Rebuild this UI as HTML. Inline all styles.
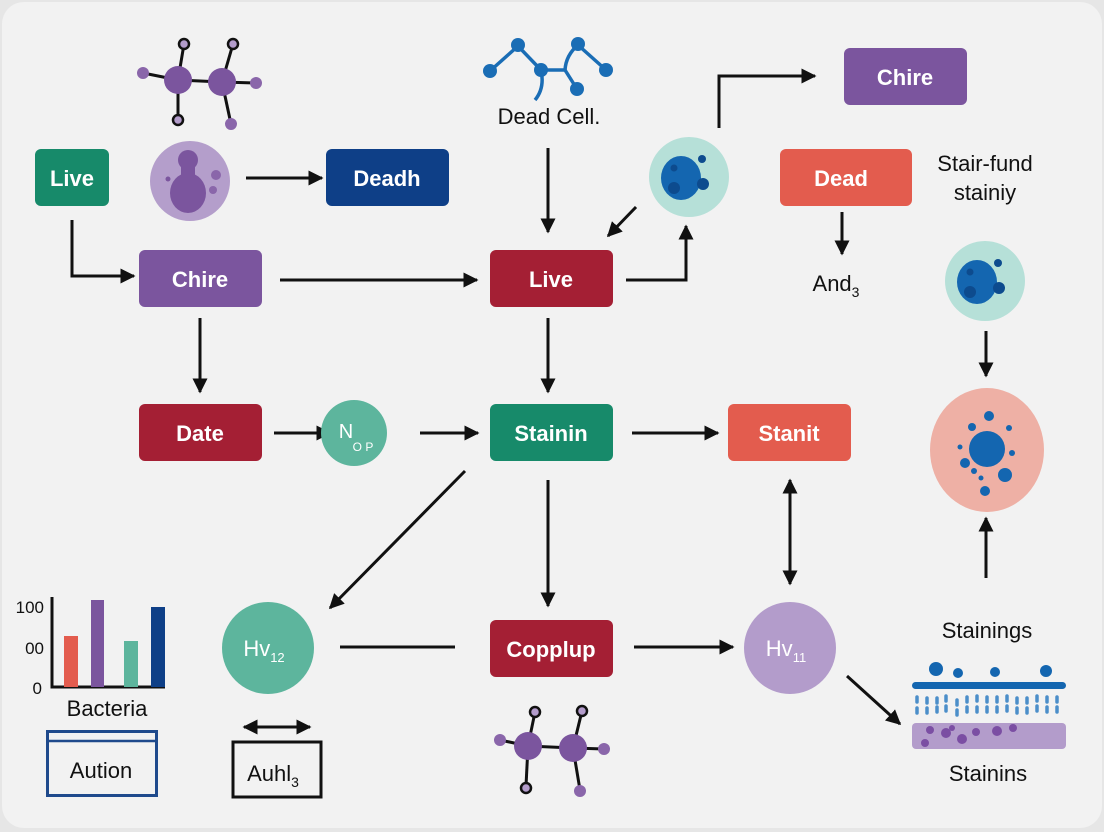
<!DOCTYPE html>
<html><head><meta charset="utf-8"><style>
html,body{margin:0;padding:0;background:#e9e9e9}
svg{display:block}
text{font-family:"Liberation Sans",sans-serif}
</style></head><body>
<svg width="1104" height="832" viewBox="0 0 1104 832" xmlns="http://www.w3.org/2000/svg">
<defs>
<marker id="a" viewBox="0 0 10 10" refX="9" refY="5" markerWidth="5" markerHeight="5" orient="auto-start-reverse"><path d="M0,0L10,5L0,10z" fill="#111"/></marker>
</defs>
<rect x="0" y="0" width="1104" height="832" fill="#e6e6e6"/>
<rect x="2" y="2" width="1100" height="826" rx="22" fill="#f2f2f2"/>

<g stroke="#111" stroke-width="3" fill="none" marker-end="url(#a)">
<path d="M72,220V276H134"/>
<path d="M246,178H322"/>
<path d="M280,280H477"/>
<path d="M548,148V232"/>
<path d="M636,207L608,236"/>
<path d="M626,280H686V226"/>
<path d="M719,128V76H815"/>
<path d="M842,212V254"/>
<path d="M200,318V392"/>
<path d="M274,433H330"/>
<path d="M420,433H478"/>
<path d="M548,318V392"/>
<path d="M632,433H718"/>
<path d="M986,331V376"/>
<path d="M465,471L330,608"/>
<path d="M548,480V606"/>
<path d="M790,480V584" marker-start="url(#a)"/>
<path d="M634,647H733"/>
<path d="M847,676L900,724"/>
<path d="M986,578V518"/>
<path d="M244,727H310" marker-start="url(#a)"/>
</g>
<line x1="340" y1="647" x2="455" y2="647" stroke="#111" stroke-width="3"/>

<!-- boxes -->
<g font-size="22" fill="#fff" text-anchor="middle" font-weight="bold">
<rect x="35" y="149" width="74" height="57" rx="6" fill="#178a6a"/><text x="72" y="186">Live</text>
<rect x="326" y="149" width="123" height="57" rx="6" fill="#0e3f87"/><text x="387" y="186">Deadh</text>
<rect x="139" y="250" width="123" height="57" rx="6" fill="#7b559e"/><text x="200" y="287">Chire</text>
<rect x="490" y="250" width="123" height="57" rx="6" fill="#a41f34"/><text x="551" y="287">Live</text>
<rect x="844" y="48" width="123" height="57" rx="6" fill="#7b559e"/><text x="905" y="85">Chire</text>
<rect x="780" y="149" width="132" height="57" rx="6" fill="#e35c4e"/><text x="841" y="186">Dead</text>
<rect x="139" y="404" width="123" height="57" rx="6" fill="#a41f34"/><text x="200" y="441">Date</text>
<rect x="490" y="404" width="123" height="57" rx="6" fill="#178a6a"/><text x="551" y="441">Stainin</text>
<rect x="728" y="404" width="123" height="57" rx="6" fill="#e35c4e"/><text x="789" y="441">Stanit</text>
<rect x="490" y="620" width="123" height="57" rx="6" fill="#a41f34"/><text x="551" y="657">Copplup</text>
</g>

<!-- circles -->
<circle cx="354" cy="433" r="33" fill="#5db59d"/>
<text x="346" y="438" font-size="20" fill="#fff" text-anchor="middle">N</text>
<text x="363" y="451" font-size="12" fill="#fff" text-anchor="middle">O P</text>
<circle cx="268" cy="648" r="46" fill="#5db59d"/>
<text x="264" y="656" font-size="22" fill="#fff" text-anchor="middle">Hv<tspan font-size="13" dy="6">12</tspan></text>
<circle cx="790" cy="648" r="46" fill="#b39ccb"/>
<text x="786" y="656" font-size="22" fill="#fff" text-anchor="middle">Hv<tspan font-size="13" dy="6">11</tspan></text>

<!-- purple cell -->
<circle cx="190" cy="181" r="40" fill="#b49ecb"/>
<circle cx="188" cy="160" r="10" fill="#7b559e"/>
<ellipse cx="188" cy="193" rx="18" ry="20" fill="#7b559e"/>
<rect x="181" y="160" width="14" height="20" fill="#7b559e"/>
<circle cx="168" cy="179" r="2.5" fill="#7b559e"/>
<circle cx="216" cy="175" r="5" fill="#8a66aa"/>
<circle cx="213" cy="190" r="4" fill="#8a66aa"/>

<!-- top molecule -->
<g stroke="#111" stroke-width="3">
<line x1="178" y1="80" x2="184" y2="44"/><line x1="222" y1="82" x2="233" y2="44"/>
<line x1="178" y1="80" x2="143" y2="73"/><line x1="222" y1="82" x2="256" y2="83"/>
<line x1="178" y1="80" x2="178" y2="120"/><line x1="222" y1="82" x2="231" y2="124"/>
<line x1="178" y1="80" x2="222" y2="82"/>
</g>
<circle cx="178" cy="80" r="14" fill="#7b559e"/><circle cx="222" cy="82" r="14" fill="#7b559e"/>
<circle cx="184" cy="44" r="5" fill="#b39ccb" stroke="#111" stroke-width="2.5"/>
<circle cx="233" cy="44" r="5" fill="#b39ccb" stroke="#111" stroke-width="2.5"/>
<circle cx="178" cy="120" r="5" fill="#b39ccb" stroke="#111" stroke-width="2.5"/>
<circle cx="143" cy="73" r="6" fill="#8a66aa"/><circle cx="256" cy="83" r="6" fill="#8a66aa"/>
<circle cx="231" cy="124" r="6" fill="#8a66aa"/>

<!-- bottom molecule -->
<g stroke="#111" stroke-width="3">
<line x1="528" y1="746" x2="535" y2="712"/><line x1="573" y1="748" x2="582" y2="711"/>
<line x1="528" y1="746" x2="500" y2="740"/><line x1="573" y1="748" x2="604" y2="749"/>
<line x1="528" y1="746" x2="526" y2="786"/><line x1="573" y1="748" x2="580" y2="790"/>
<line x1="528" y1="746" x2="573" y2="748"/>
</g>
<circle cx="528" cy="746" r="14" fill="#7b559e"/><circle cx="573" cy="748" r="14" fill="#7b559e"/>
<circle cx="535" cy="712" r="5" fill="#b39ccb" stroke="#111" stroke-width="2.5"/>
<circle cx="582" cy="711" r="5" fill="#b39ccb" stroke="#111" stroke-width="2.5"/>
<circle cx="526" cy="788" r="5" fill="#b39ccb" stroke="#111" stroke-width="2.5"/>
<circle cx="500" cy="740" r="6" fill="#8a66aa"/><circle cx="604" cy="749" r="6" fill="#8a66aa"/>
<circle cx="580" cy="791" r="6" fill="#8a66aa"/>

<!-- blue molecule -->
<g stroke="#1a6db5" stroke-width="3.5" fill="none">
<path d="M490,71L518,46L541,70Q545,88 535,100"/>
<path d="M541,70H565"/>
<path d="M565,70Q566,55 578,45L606,70"/>
<path d="M565,70L577,89"/>
</g>
<g fill="#1a6db5">
<circle cx="490" cy="71" r="7"/><circle cx="518" cy="45" r="7"/><circle cx="541" cy="70" r="7"/>
<circle cx="578" cy="44" r="7"/><circle cx="606" cy="70" r="7"/><circle cx="577" cy="89" r="7"/>
</g>
<text x="549" y="124" font-size="22" fill="#111" text-anchor="middle">Dead Cell.</text>

<!-- teal cells -->
<g id="tc">
<circle cx="689" cy="177" r="40" fill="#b6e0d8"/>
<ellipse cx="681" cy="178" rx="20" ry="22" fill="#1466b0"/>
<circle cx="674" cy="188" r="6" fill="#0d4b8e"/><circle cx="674" cy="168" r="3.5" fill="#0d4b8e"/>
<circle cx="702" cy="159" r="4" fill="#0d4b8e"/><circle cx="703" cy="184" r="6" fill="#0d4b8e"/>
</g>
<use href="#tc" transform="translate(296,104)"/>

<!-- pink cell -->
<ellipse cx="987" cy="450" rx="57" ry="62" fill="#eeb0a5"/>
<circle cx="987" cy="449" r="18" fill="#1466b0"/>
<g fill="#1466b0">
<circle cx="989" cy="416" r="5"/><circle cx="972" cy="427" r="4"/><circle cx="1009" cy="428" r="3"/>
<circle cx="960" cy="447" r="2.5"/><circle cx="1012" cy="453" r="3"/><circle cx="965" cy="463" r="5"/>
<circle cx="1005" cy="475" r="7"/><circle cx="981" cy="478" r="2.5"/><circle cx="985" cy="491" r="5"/><circle cx="974" cy="471" r="3"/>
</g>

<!-- texts -->
<g font-size="22" fill="#111" text-anchor="middle">
<text x="985" y="171">Stair-fund</text>
<text x="985" y="200">stainiy</text>
<text x="836" y="291">And<tspan font-size="14" dy="6">3</tspan></text>
<text x="987" y="638">Stainings</text>
<text x="988" y="781">Stainins</text>
<text x="107" y="716">Bacteria</text>
</g>

<!-- membrane -->
<g fill="#1466b0">
<circle cx="936" cy="669" r="7"/><circle cx="958" cy="673" r="5"/><circle cx="995" cy="672" r="5"/><circle cx="1046" cy="671" r="6"/>
<rect x="912" y="682" width="154" height="7" rx="3.5"/>
</g>
<g stroke="#4b8ec9" stroke-width="3.5" stroke-linecap="round">
<path d="M917,697v5M917,708v5M927,698v5M927,708v5M937,698v5M937,707v5M946,696v5M946,706v5M957,700v5M957,710v5M967,697v5M967,707v5M977,696v5M977,707v5M987,697v5M987,707v5M997,697v5M997,707v5M1007,696v5M1007,706v5M1017,698v5M1017,708v5M1027,698v5M1027,708v5M1037,696v5M1037,706v5M1047,697v5M1047,707v5M1057,697v5M1057,707v5"/>
</g>
<rect x="912" y="723" width="154" height="26" rx="4" fill="#b39ccb"/>
<g fill="#7b4ea3">
<circle cx="930" cy="730" r="4"/><circle cx="925" cy="743" r="4"/><circle cx="946" cy="733" r="5"/><circle cx="952" cy="728" r="3"/>
<circle cx="962" cy="739" r="5"/><circle cx="976" cy="732" r="4"/><circle cx="997" cy="731" r="5"/><circle cx="1013" cy="728" r="4"/>
</g>

<!-- chart -->
<g stroke="#111" stroke-width="3" fill="none"><path d="M52,597V687H165"/></g>
<rect x="64" y="636" width="14" height="51" fill="#e35c4e"/>
<rect x="91" y="600" width="13" height="87" fill="#7b559e"/>
<rect x="124" y="641" width="14" height="46" fill="#5db59d"/>
<rect x="151" y="607" width="14" height="80" fill="#0e3f87"/>
<g font-size="17" fill="#111" text-anchor="end">
<text x="44" y="613">100</text><text x="44" y="654">00</text><text x="42" y="694">0</text>
</g>

<!-- Aution box -->
<rect x="47.5" y="731.5" width="109" height="64" fill="none" stroke="#1f4a8c" stroke-width="3"/>
<line x1="47" y1="741" x2="157" y2="741" stroke="#1f4a8c" stroke-width="2.5"/>
<text x="101" y="778" font-size="22" fill="#111" text-anchor="middle">Aution</text>
<rect x="233" y="742" width="88" height="55" fill="none" stroke="#111" stroke-width="3"/>
<text x="273" y="781" font-size="22" fill="#111" text-anchor="middle">Auhl<tspan font-size="14" dy="6">3</tspan></text>
</svg>
</body></html>
